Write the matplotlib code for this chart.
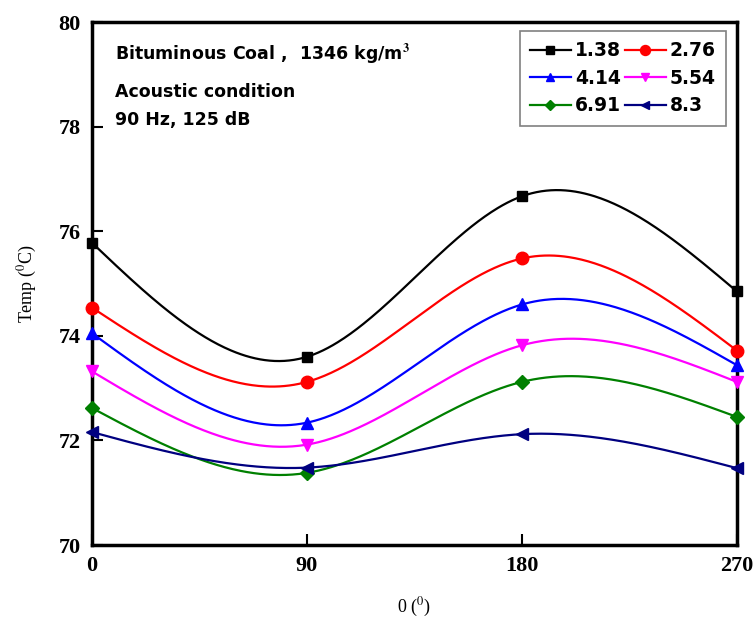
import numpy as np
import matplotlib
matplotlib.use('Agg')
import matplotlib.pyplot as plt

# data
angle = [0, 90, 180, 270]
labels = ['1.38', '2.76', '4.14', '5.54', '6.91', '8.3']
t_138 = [75.78, 73.60, 76.67, 74.85]
t_276 = [74.54, 73.12, 75.48, 73.72]
t_414 = [74.05, 72.34, 74.60, 73.44]
t_554 = [73.32, 71.92, 73.82, 73.12]
t_691 = [72.62, 71.38, 73.12, 72.45]
t_830 = [72.16, 71.48, 72.12, 71.47]

series = [t_138, t_276, t_414, t_554, t_691, t_830]
colors = ['black', 'red', 'blue', 'magenta', 'green', 'navy']
markers = ['s', 'o', '^', 'v', 'D', '<']
msizes = [7, 9, 8, 8, 7, 8]


def natural_spline(x, y, xs):
    # natural cubic spline through the points, for the smooth connecting line
    x = np.asarray(x, float)
    y = np.asarray(y, float)
    n = len(x)
    h = np.diff(x)
    A = np.zeros((n, n))
    r = np.zeros(n)
    A[0, 0] = A[-1, -1] = 1
    for i in range(1, n - 1):
        A[i, i - 1] = h[i - 1]
        A[i, i] = 2 * (h[i - 1] + h[i])
        A[i, i + 1] = h[i]
        r[i] = 6 * ((y[i + 1] - y[i]) / h[i] - (y[i] - y[i - 1]) / h[i - 1])
    M = np.linalg.solve(A, r)
    idx = np.clip(np.searchsorted(x, xs) - 1, 0, n - 2)
    x0, x1 = x[idx], x[idx + 1]
    hh = x1 - x0
    a = (x1 - xs) / hh
    b = (xs - x0) / hh
    return (a * y[idx] + b * y[idx + 1]
            + ((a ** 3 - a) * M[idx] + (b ** 3 - b) * M[idx + 1]) * hh ** 2 / 6)


plt.rcParams['mathtext.fontset'] = 'stix'

fig = plt.figure(figsize=(7.56, 6.33), dpi=100)
ax = fig.add_axes([0.1217, 0.139, 0.853, 0.826])

xs = np.linspace(0, 270, 400)
handles = []
for y, c, m, ms, lab in zip(series, colors, markers, msizes, labels):
    ax.plot(xs, natural_spline(angle, y, xs), color=c, lw=1.6, zorder=2)
    ax.plot(angle, y, ls='none', marker=m, color=c, ms=ms, zorder=3, clip_on=False)
    h, = ax.plot([], [], color=c, lw=1.6, marker=m, ms=ms, label=lab)
    handles.append(h)

ax.set_xlim(0, 270)
ax.set_ylim(70, 80)
ax.set_xticks([0, 90, 180, 270])
ax.set_yticks(np.arange(70, 81, 2))
ax.tick_params(direction='in', length=8, width=1.5, top=False, right=False, pad=8)
for lbl in ax.get_xticklabels() + ax.get_yticklabels():
    lbl.set_fontfamily('Liberation Serif')
    lbl.set_fontweight('bold')
    lbl.set_fontsize(16)
for sp in ax.spines.values():
    sp.set_linewidth(2.5)

ax.set_xlabel(r'0 ($^{0}$)', fontsize=13, family='Liberation Serif', labelpad=14)
ax.set_ylabel(r'Temp ($^{0}$C)', fontsize=13, family='Liberation Serif', labelpad=14)

ax.text(0.036, 0.937, r'Bituminous Coal ,  1346 kg/m$^\mathbf{3}$', transform=ax.transAxes,
        fontsize=12.5, fontweight='bold', family='DejaVu Sans', va='center')
ax.text(0.036, 0.866, 'Acoustic condition', transform=ax.transAxes,
        fontsize=12.5, fontweight='bold', family='DejaVu Sans', va='center')
ax.text(0.036, 0.813, '90 Hz, 125 dB', transform=ax.transAxes,
        fontsize=12.5, fontweight='bold', family='DejaVu Sans', va='center')

# row-wise order as in the reference legend
order = [0, 2, 4, 1, 3, 5]
leg = ax.legend([handles[i] for i in order], [labels[i] for i in order],
                ncol=2, loc='upper right', bbox_to_anchor=(0.983, 0.983),
                borderaxespad=0,
                prop={'family': 'DejaVu Sans', 'weight': 'bold', 'size': 13.5},
                fancybox=False, edgecolor='gray', handlelength=2.2,
                handletextpad=0.2, columnspacing=0.2, labelspacing=0.45,
                borderpad=0.55, framealpha=1, markerscale=0.8)
leg.get_frame().set_linewidth(1.2)

fig.savefig('out.png', dpi=100)
